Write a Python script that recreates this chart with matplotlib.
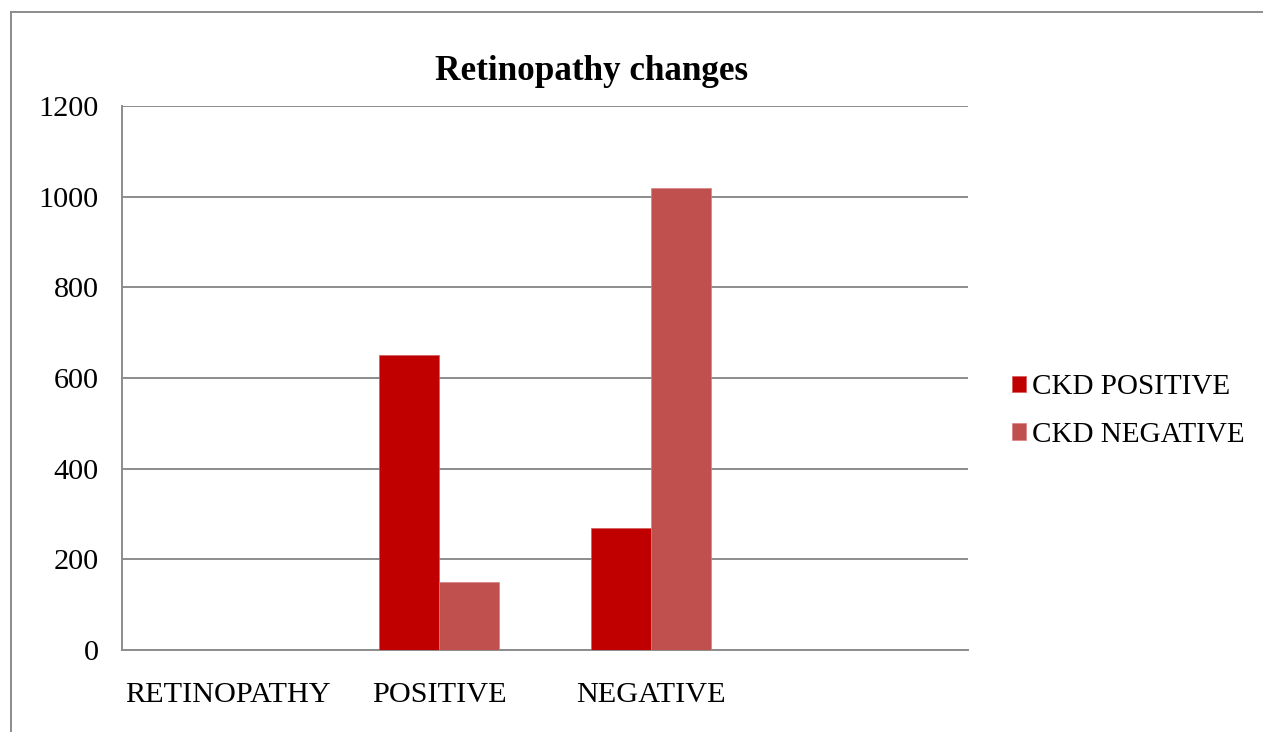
import matplotlib
matplotlib.use("Agg")
import matplotlib.pyplot as plt
from matplotlib.lines import Line2D
import numpy as np

categories = ["RETINOPATHY", "POSITIVE", "NEGATIVE", ""]
ckd_positive = [np.nan, 650, 270, np.nan]
ckd_negative = [np.nan, 150, 1020, np.nan]
series_names = ["CKD POSITIVE", "CKD NEGATIVE"]
series_colors = ["#C00000", "#C0504D"]
y_ticks = [0, 200, 400, 600, 800, 1000, 1200]

plt.rcParams["font.family"] = ["Liberation Serif", "DejaVu Serif"]

fig = plt.figure(figsize=(12.63, 7.32), dpi=100)
ax = fig.add_axes([122 / 1263, 82 / 732, 846 / 1263, 544 / 732])

x = np.arange(len(categories))
w = 0.284
grid_c = "#8C8C8C"

ax.bar(x - w / 2, ckd_positive, width=w, color=series_colors[0],
       edgecolor="#D45A5A", linewidth=0.5, label=series_names[0], zorder=3)
ax.bar(x + w / 2, ckd_negative, width=w, color=series_colors[1],
       edgecolor="#D98080", linewidth=0.5, label=series_names[1], zorder=3)

ax.set_xlim(-0.5, len(categories) - 0.5)
ax.set_ylim(0, 1200)
ax.set_yticks(y_ticks)
ax.set_yticklabels([str(v) for v in y_ticks], fontsize=21.8)
ax.set_xticks(x)
ax.set_xticklabels(categories, fontsize=21.8)
ax.tick_params(axis="both", length=0, colors="black")
ax.tick_params(axis="y", pad=17)
ax.tick_params(axis="x", pad=23)

ax.grid(axis="y", color=grid_c, linewidth=1.4, zorder=1)
ax.set_axisbelow(True)
for side in ["top", "right"]:
    ax.spines[side].set_visible(False)
for side in ["left", "bottom"]:
    ax.spines[side].set_color(grid_c)
    ax.spines[side].set_linewidth(1.4)

fig.text(592 / 1263, 1 - 72 / 732, "Retinopathy changes", fontsize=25.3,
         fontweight="bold", ha="center", va="center")

leg = ax.legend(loc="center left", bbox_to_anchor=(1.038, 0.439), frameon=False,
                fontsize=21, handlelength=0.5, handleheight=0.5,
                handletextpad=0.2, labelspacing=0.75, borderaxespad=0)

# outer chart frame
fig.add_artist(Line2D([10.5 / 1263, 10.5 / 1263], [-0.1, 1 - 12 / 732],
                      transform=fig.transFigure, color="#8C8C8C", linewidth=1.4))
fig.add_artist(Line2D([10.5 / 1263, 1.1], [1 - 12 / 732, 1 - 12 / 732],
                      transform=fig.transFigure, color="#8C8C8C", linewidth=1.4))

fig.savefig("out.png", dpi=100, facecolor="white")
